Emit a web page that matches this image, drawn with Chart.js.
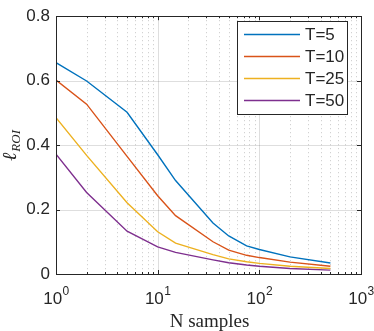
<!DOCTYPE html>
<html lang="en">

<head>
    <title>ROI loss vs N samples</title>
    <meta charset="utf-8">
    <script src="https://cdn.jsdelivr.net/npm/chart.js@4.4.0/dist/chart.umd.min.js"></script>
    <style>
        html, body { margin: 0; padding: 0; background: #fff; }
        #wrap { width: 374px; height: 331px; }
    </style>
</head>

<body>
    <div id="wrap"><canvas id="roiChart" width="374" height="331"></canvas></div>
    <script type="text/javascript">
    // sample counts (x, log scale)
    var nSamples = [1, 2, 5, 10, 15, 35, 50, 75, 100, 200, 500];
    // loss values per T
    var lossT5  = [0.656, 0.599, 0.502, 0.370, 0.290, 0.158, 0.118, 0.087, 0.076, 0.053, 0.034];
    var lossT10 = [0.602, 0.527, 0.365, 0.243, 0.181, 0.100, 0.074, 0.058, 0.051, 0.037, 0.024];
    var lossT25 = [0.485, 0.368, 0.221, 0.131, 0.096, 0.060, 0.047, 0.038, 0.033, 0.024, 0.017];
    var lossT50 = [0.372, 0.253, 0.133, 0.084, 0.067, 0.044, 0.035, 0.028, 0.024, 0.017, 0.012];
    var seriesNames = ["T=5", "T=10", "T=25", "T=50"];
    var seriesColors = ["#0072BD", "#D95319", "#EDB120", "#7E2F8E"];
    var yTicks = [0, 0.2, 0.4, 0.6, 0.8];
    var xDecades = [1, 10, 100, 1000];

    var axisColor = "#262626";
    var sans = "'Liberation Sans', Arial, sans-serif";
    var serif = "'Liberation Serif', 'DejaVu Serif', serif";

    function pts(ys) {
        return nSamples.map(function(x, i) { return { x: x, y: ys[i] }; });
    }

    var allSeries = [lossT5, lossT10, lossT25, lossT50];
    var datasets = allSeries.map(function(ys, i) {
        return {
            label: seriesNames[i],
            data: pts(ys),
            borderColor: seriesColors[i],
            backgroundColor: seriesColors[i],
            borderWidth: 1.4,
            pointRadius: 0,
            tension: 0,
            fill: false
        };
    });

    // minor + major grid, inside ticks, box
    var gridPlugin = {
        id: "matlabGrid",
        beforeDatasetsDraw: function(chart) {
            var ctx = chart.ctx, a = chart.chartArea;
            var xs = chart.scales.x, ys = chart.scales.y;
            ctx.save();
            ctx.lineWidth = 1;
            // minor x grid, dotted
            ctx.strokeStyle = "rgba(0,0,0,0.22)";
            ctx.setLineDash([1, 3]);
            for (var d = 1; d < 1000; d *= 10) {
                for (var m = 2; m <= 9; m++) {
                    var px = Math.round(xs.getPixelForValue(d * m)) + 0.5;
                    ctx.beginPath(); ctx.moveTo(px, a.top); ctx.lineTo(px, a.bottom); ctx.stroke();
                }
            }
            ctx.setLineDash([]);
            // major grid
            ctx.strokeStyle = "rgba(0,0,0,0.13)";
            xDecades.forEach(function(v) {
                var px = Math.round(xs.getPixelForValue(v)) + 0.5;
                ctx.beginPath(); ctx.moveTo(px, a.top); ctx.lineTo(px, a.bottom); ctx.stroke();
            });
            yTicks.forEach(function(v) {
                var py = Math.round(ys.getPixelForValue(v)) + 0.5;
                ctx.beginPath(); ctx.moveTo(a.left, py); ctx.lineTo(a.right, py); ctx.stroke();
            });
            ctx.restore();
        },
        afterDraw: function(chart) {
            var ctx = chart.ctx, a = chart.chartArea;
            var xs = chart.scales.x, ys = chart.scales.y;
            ctx.save();
            ctx.strokeStyle = axisColor;
            ctx.lineWidth = 1;
            // axes box
            ctx.strokeRect(Math.round(a.left) + 0.5, Math.round(a.top) + 0.5,
                Math.round(a.right - a.left), Math.round(a.bottom - a.top));
            // inside ticks
            ctx.beginPath();
            for (var d = 1; d <= 1000; d *= 10) {
                for (var m = 1; m <= 9; m++) {
                    var v = d * m;
                    if (v > 1000) break;
                    var len = (m === 1) ? 4 : 2;
                    var px = Math.round(xs.getPixelForValue(v)) + 0.5;
                    ctx.moveTo(px, a.bottom); ctx.lineTo(px, a.bottom - len);
                    ctx.moveTo(px, a.top); ctx.lineTo(px, a.top + len);
                }
            }
            yTicks.forEach(function(v) {
                var py = Math.round(ys.getPixelForValue(v)) + 0.5;
                ctx.moveTo(a.left, py); ctx.lineTo(a.left + 4, py);
                ctx.moveTo(a.right, py); ctx.lineTo(a.right - 4, py);
            });
            ctx.stroke();

            // x tick labels 10^k
            ctx.fillStyle = axisColor;
            ctx.textBaseline = "alphabetic";
            xDecades.forEach(function(v, k) {
                var px = xs.getPixelForValue(v);
                ctx.font = "17px " + sans;
                var wb = ctx.measureText("10").width;
                ctx.font = "12px " + sans;
                var we = ctx.measureText(String(k)).width;
                var x0 = px - (wb + we) / 2;
                ctx.textAlign = "left";
                ctx.font = "17px " + sans;
                ctx.fillText("10", x0, 304);
                ctx.font = "12px " + sans;
                ctx.fillText(String(k), x0 + wb + 0.5, 295);
            });

            // x axis title
            ctx.font = "19px " + serif;
            ctx.textAlign = "center";
            ctx.fillText("N samples", (a.left + a.right) / 2 + 1, 327);

            // y axis title: l_ROI rotated
            ctx.translate(16, 146);
            ctx.rotate(-Math.PI / 2);
            ctx.font = "italic 20px " + serif;
            var wl = ctx.measureText("\u2113").width;
            ctx.font = "italic 13px " + serif;
            var wr = ctx.measureText("ROI").width;
            var sx = -(wl + wr) / 2;
            ctx.textAlign = "left";
            ctx.font = "italic 20px " + serif;
            ctx.fillText("\u2113", sx, 0);
            ctx.font = "italic 13px " + serif;
            ctx.fillText("ROI", sx + wl + 1, 4);
            ctx.restore();

            // legend
            ctx.save();
            ctx.fillStyle = "#fff";
            ctx.fillRect(237, 21, 110, 93);
            ctx.strokeStyle = axisColor;
            ctx.lineWidth = 1;
            ctx.strokeRect(237.5, 21.5, 110, 93);
            ctx.font = "17px " + sans;
            ctx.textBaseline = "middle";
            ctx.textAlign = "left";
            seriesNames.forEach(function(name, i) {
                var yy = 34 + i * 22;
                ctx.strokeStyle = seriesColors[i];
                ctx.lineWidth = 1.4;
                ctx.beginPath(); ctx.moveTo(244, yy + 0.5); ctx.lineTo(300, yy + 0.5); ctx.stroke();
                ctx.fillStyle = axisColor;
                ctx.fillText(name, 305, yy + 1);
            });
            ctx.restore();
        }
    };

    var roiChart = new Chart(document.getElementById("roiChart").getContext("2d"), {
        type: "line",
        data: { datasets: datasets },
        options: {
            responsive: false,
            animation: false,
            devicePixelRatio: 1,
            layout: { padding: { top: 6, right: 13, left: 0, bottom: 0 } },
            plugins: {
                legend: { display: false },
                tooltip: { enabled: false }
            },
            scales: {
                x: {
                    type: "logarithmic",
                    min: 1,
                    max: 1000,
                    grid: { display: false },
                    border: { display: false },
                    ticks: { display: false },
                    afterFit: function(scale) { scale.height = 57; }
                },
                y: {
                    min: 0,
                    max: 0.8,
                    grid: { display: false, drawTicks: false },
                    border: { display: false },
                    afterBuildTicks: function(scale) {
                        scale.ticks = yTicks.map(function(v) { return { value: v }; });
                    },
                    ticks: {
                        padding: 6,
                        color: axisColor,
                        font: { family: sans, size: 17 },
                        callback: function(v) { return String(v); }
                    },
                    afterFit: function(scale) { scale.width = 56; }
                }
            }
        },
        plugins: [gridPlugin]
    });
    </script>
</body>

</html>
